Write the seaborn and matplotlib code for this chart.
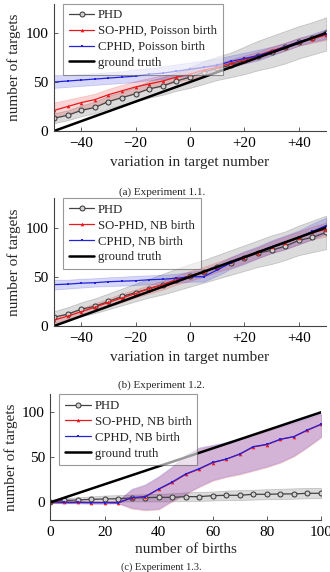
import numpy as np
import pandas as pd
import matplotlib
matplotlib.use("Agg")
import matplotlib.pyplot as plt
import seaborn as sns

# ---- data ----
# Experiment 1.1
var_x = [-50, -45, -40, -35, -30, -25, -20, -15, -10, -5, 0, 5, 10, 15, 20, 25, 30, 35, 40, 45, 50]
truth_11 = [0, 5, 10, 15, 20, 25, 30, 35, 40, 45, 50, 55, 60, 65, 70, 75, 80, 85, 90, 95, 100]
phd_11 = [13, 16, 21, 24, 30, 34, 38, 43, 46, 51, 55, 60, 64, 67, 72, 77, 81, 86, 91, 95, 100]
phd_11_lo = [8, 11, 15, 18, 23, 27, 30, 34, 37, 41, 44, 48, 52, 55, 58, 62, 65, 69, 74, 78, 82]
phd_11_hi = [18, 21, 26, 30, 36, 40, 45, 51, 55, 60, 65, 71, 76, 80, 86, 92, 97, 102, 107, 111, 116]
so_11 = [21, 25, 29, 32, 37, 41, 45, 48, 51, 55, 58, 62, 65, 69, 73, 77, 82, 86, 91, 94, 98]
so_11_lo = [14, 18, 22, 26, 31, 35, 39, 43, 46, 50, 53, 57, 61, 65, 69, 73, 78, 82, 87, 90, 93]
so_11_hi = [29, 32, 35, 38, 43, 47, 51, 54, 57, 60, 63, 66, 69, 73, 77, 81, 86, 90, 95, 98, 103]
cphd_11 = [50, 51, 52, 53, 54, 55, 56, 58, 59, 61, 63, 65, 67, 71, 74, 77, 81, 86, 91, 95, 99]
cphd_11_lo = [44, 45, 46, 47, 48, 49, 50, 52, 53, 55, 56, 58, 61, 65, 69, 72, 77, 82, 87, 91, 94]
cphd_11_hi = [57, 57, 58, 59, 60, 61, 63, 64, 66, 68, 70, 72, 74, 77, 80, 83, 86, 90, 95, 99, 104]

# Experiment 1.2
truth_12 = truth_11
phd_12 = [9, 12, 17, 20, 25, 30, 34, 38, 42, 47, 51, 55, 60, 64, 69, 74, 77, 81, 87, 90, 95]
phd_12_lo = [2, 6, 10, 13, 17, 21, 25, 29, 32, 36, 40, 44, 48, 52, 56, 60, 63, 67, 72, 75, 78]
phd_12_hi = [15, 19, 24, 28, 33, 38, 43, 48, 53, 58, 63, 67, 72, 77, 82, 87, 92, 96, 102, 107, 112]
so_12 = [6, 10, 14.5, 19, 24, 28.5, 33, 38, 42, 47, 51, 55, 60, 64.5, 69.5, 74.5, 80, 84.5, 89.5, 95, 98]
so_12_lo = [3, 7, 11, 15, 20, 24, 29, 33, 37, 42, 46, 50, 55, 59, 64, 69, 74, 78, 83, 88, 91]
so_12_hi = [9, 13, 18, 23, 28, 33, 37, 42, 46, 51, 56, 60, 65, 70, 75, 80, 86, 91, 96, 101, 105]
cphd_12 = [42, 42.5, 43.5, 44, 45, 45.5, 46, 47, 47.5, 48.5, 50, 50, 57, 64, 69.5, 75, 80.5, 85, 90, 96, 102]
cphd_12_lo = [37, 38, 39, 40, 40.5, 41, 41.5, 42.5, 43, 44, 45, 45, 51, 58, 63, 69, 74, 78, 83, 88, 94]
cphd_12_hi = [47, 47, 48, 48.5, 49.5, 50, 51, 51.5, 52, 53, 55, 57, 63, 70, 76, 81, 87, 92, 97, 104, 110]

# Experiment 1.3
births = [0, 5, 10, 15, 20, 25, 30, 35, 40, 45, 50, 55, 60, 65, 70, 75, 80, 85, 90, 95, 100]
truth_13 = births
phd_13 = [0.7, 2, 2.6, 3.3, 3.7, 4, 4.8, 5.2, 5.5, 5.5, 6.3, 6.3, 7.4, 7.8, 7.8, 8.9, 8.9, 9.3, 9.3, 10, 10]
phd_13_lo = [-1, -1, -0.5, 0, 0, 0.5, 1, 1, 1, 1, 1.5, 1.5, 2, 2.5, 2.5, 3, 3.5, 3.5, 4, 4.5, 4.5]
phd_13_hi = [2.5, 4.5, 5.5, 6.5, 7.5, 8, 8.5, 9, 9.5, 10, 11, 11.5, 12, 13, 13.5, 14, 14.5, 15, 15.5, 16, 16]
cphd_13 = [0.5, 0, 0, -0.3, -0.3, -0.5, 5, 6.3, 14.8, 22.6, 31.5, 37.4, 44.4, 48, 53.7, 61.9, 64.4, 70, 73, 80.4, 86.7]
cphd_13_lo = [-0.5, -1, -1, -1.5, -1.5, -1, -6, -8, -7, 2, 10, 18, 25, 29, 32, 36, 40, 45, 52, 62, 73]
cphd_13_hi = [1.5, 1, 1, 1, 1, 2, 15, 20, 29, 40, 53, 61, 64, 67, 71, 76, 80, 85, 89, 94, 99]
so_13 = [0.5, 0, 0, -0.3, -0.3, -0.5, 5, 6, 14.5, 22, 31, 37, 44, 48, 53.5, 61.5, 64, 70, 73, 80, 86.5]
so_13_lo = [-0.5, -1, -1, -1.5, -1.5, -1, -7, -9, -8, 1, 9, 17, 24, 28, 31, 35, 39, 44, 51, 61, 72]
so_13_hi = [1.5, 1, 1, 1, 1, 2, 14, 19, 28, 39, 52, 60, 63, 66, 70, 75, 79, 84, 88, 93, 98]

var_ticks = [-40, -20, 0, 20, 40]
var_ticklabels = ["\u221240", "\u221220", "0", "+20", "+40"]
birth_ticks = [0, 20, 40, 60, 80, 100]

sns.set_theme(style="ticks")
plt.rcParams["font.family"] = ["Liberation Serif", "DejaVu Serif"]

GRAY_LINE = "#444444"
RED = "#e8191c"
BLUE = "#2222dd"


def draw_panel(ax, x, phd, plo, phi, so, slo, shi, cp, clo, chi, truth, so_lab, cp_lab):
    ax.fill_between(x, plo, phi, color="#9a9a9a", alpha=0.35, lw=0.6, edgecolor="#777777")
    ax.fill_between(x, slo, shi, color=RED, alpha=0.18, lw=0.6, edgecolor=RED)
    ax.fill_between(x, clo, chi, color=BLUE, alpha=0.18, lw=0.6, edgecolor=BLUE)
    df = pd.DataFrame({"x": x, "phd": phd, "so": so, "cp": cp, "truth": truth})
    sns.lineplot(data=df, x="x", y="phd", ax=ax, color=GRAY_LINE, lw=0.9, marker="o",
                 markersize=3.6, markerfacecolor="#d0d0d0", markeredgecolor="#333333",
                 markeredgewidth=0.7, label="PHD")
    sns.lineplot(data=df, x="x", y="so", ax=ax, color=RED, lw=0.9, marker="^",
                 markersize=2.6, markeredgewidth=0, label=so_lab)
    sns.lineplot(data=df, x="x", y="cp", ax=ax, color=BLUE, lw=0.9, marker="s",
                 markersize=2.0, markeredgewidth=0, label=cp_lab)
    sns.lineplot(data=df, x="x", y="truth", ax=ax, color="black", lw=1.8, label="ground truth")
    sns.despine(ax=ax)
    for s in ("left", "bottom"):
        ax.spines[s].set_color("#444444")
        ax.spines[s].set_linewidth(0.8)
    ax.tick_params(direction="in", length=3, width=0.6, colors="#444444",
                   labelcolor="black", labelsize=11, pad=4)
    ax.set_ylabel("number of targets", fontsize=11, labelpad=3)
    leg = ax.legend(loc="upper left", bbox_to_anchor=(0.033, 1.0), borderaxespad=0,
                    fontsize=9.2, frameon=True, fancybox=False, framealpha=0.6,
                    edgecolor="#555555", handlelength=2.0, handletextpad=0.3,
                    labelspacing=0.3, borderpad=0.45)
    leg.get_frame().set_linewidth(0.8)
    ax.grid(False)


fig = plt.figure(figsize=(3.3, 5.72), dpi=100)

ax1 = fig.add_axes([54 / 330, 1 - 131 / 572, 272 / 330, 127.4 / 572])
draw_panel(ax1, var_x, phd_11, phd_11_lo, phd_11_hi, so_11, so_11_lo, so_11_hi,
           cphd_11, cphd_11_lo, cphd_11_hi, truth_11,
           "SO-PHD, Poisson birth", "CPHD, Poisson birth")
ax1.set_xlim(-50, 50)
ax1.set_ylim(0, 130)
ax1.set_xticks(var_ticks, var_ticklabels)
ax1.set_yticks([0, 50, 100])
ax1.set_xlabel("variation in target number", fontsize=11, labelpad=5)
fig.text(0.49, 1 - 192 / 572, "(a) Experiment 1.1.", ha="center", va="center", fontsize=8)

ax2 = fig.add_axes([54 / 330, 1 - 326 / 572, 272 / 330, 128 / 572])
draw_panel(ax2, var_x, phd_12, phd_12_lo, phd_12_hi, so_12, so_12_lo, so_12_hi,
           cphd_12, cphd_12_lo, cphd_12_hi, truth_12,
           "SO-PHD, NB birth", "CPHD, NB birth")
ax2.set_xlim(-50, 50)
ax2.set_ylim(0, 130)
ax2.set_xticks(var_ticks, var_ticklabels)
ax2.set_yticks([0, 50, 100])
ax2.set_xlabel("variation in target number", fontsize=11, labelpad=5)
fig.text(0.49, 1 - 385 / 572, "(b) Experiment 1.2.", ha="center", va="center", fontsize=8)

ax3 = fig.add_axes([50.5 / 330, 1 - 520.3 / 572, 270.5 / 330, 126 / 572])
draw_panel(ax3, births, phd_13, phd_13_lo, phd_13_hi, so_13, so_13_lo, so_13_hi,
           cphd_13, cphd_13_lo, cphd_13_hi, truth_13,
           "SO-PHD, NB birth", "CPHD, NB birth")
ax3.set_xlim(0, 100)
ax3.set_ylim(-20, 120)
ax3.set_xticks(birth_ticks)
ax3.set_yticks([0, 50, 100])
ax3.set_xlabel("number of births", fontsize=11, labelpad=3)
fig.text(0.49, 1 - 571.5 / 572, "(c) Experiment 1.3.", ha="center", va="bottom", fontsize=7.5)

fig.savefig("out.png", dpi=100)
